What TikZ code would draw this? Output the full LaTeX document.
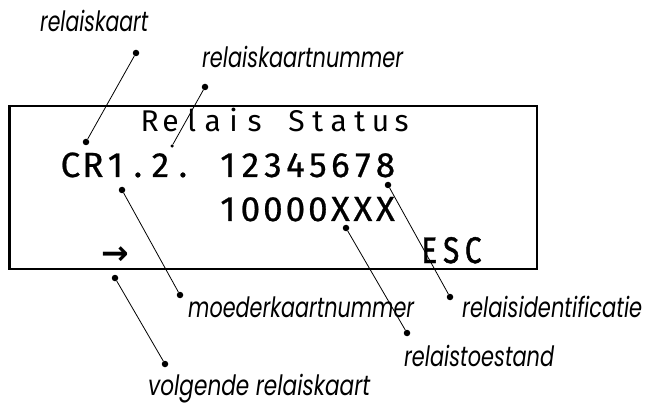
\documentclass[tikz,border=0pt]{standalone}
\usepackage{graphicx}
\usepackage{fontspec}
\setmainfont{Poppins}
\newfontfamily\lcdfont{Fira Sans}
\newfontfamily\lcdrow{Fira Sans}[FakeBold=0.7]
\newfontfamily\lcdesc{Fira Sans}[FakeBold=1.3, FakeStretch=0.8]
\newfontfamily\symfont{DejaVu Sans}
\newlength\lcdw
\def\lcdloop#1{\ifx#1\relax\else\makebox[\lcdw][c]{#1}\expandafter\lcdloop\fi}
\newcommand\lcdline[2]{\setlength\lcdw{#1}\lcdloop#2\relax}
\newcommand\fitlbl[2]{\resizebox{#1}{\height}{#2}}
\tikzset{
  lbl/.style={font=\itshape\fontsize{28}{28}\selectfont, inner sep=0pt, anchor=base west},
  lcd/.style={inner sep=0pt, anchor=base west},
  dot/.style={circle, fill=black, inner sep=0pt, minimum size=6.5pt},
  smalldot/.style={circle, fill=black, inner sep=0pt, minimum size=3.5pt},
  lead/.style={line width=0.8pt},
}
\begin{document}
\begin{tikzpicture}[x=1pt,y=-1pt]
\useasboundingbox (0,0) rectangle (645,406);
% display
\draw[line width=2.7pt] (9.5,106) rectangle (537,269);
\node[lcd, font=\lcdfont\fontsize{30}{30}\selectfont] (title) at (139,132) {\lcdline{21pt}{Relais~Status}};
\node[lcd, font=\lcdrow\fontsize{35}{35}\selectfont] (row1) at (59,177) {\lcdline{22.5pt}{CR1.2.~12345678}};
\node[lcd, font=\lcdrow\fontsize{35}{35}\selectfont] (row2) at (216.5,221) {\lcdline{22.5pt}{10000XXX}};
\node[lcd, font=\lcdesc\fontsize{37}{37}\selectfont] (esc) at (418,263) {\lcdline{22pt}{ESC}};
\node[lcd, font=\symfont\bfseries\fontsize{33}{33}\selectfont] (arrow) at (101,264) {→};
% labels
\node[lbl] (l1) at (40,32) {\fitlbl{108pt}{relaiskaart}};
\node[lbl] (l2) at (202,68) {\fitlbl{201pt}{relaiskaartnummer}};
\node[lbl] (l3) at (188,317) {\fitlbl{226pt}{moederkaartnummer}};
\node[lbl] (l4) at (462,317) {\fitlbl{180pt}{relaisidentificatie}};
\node[lbl] (l5) at (404,366) {\fitlbl{150pt}{relaistoestand}};
\node[lbl] (l6) at (148,395) {\fitlbl{222pt}{volgende relaiskaart}};
% dots
\node[dot] (d1a) at (136,53) {};
\node[dot] (d1b) at (86,142) {};
\node[dot] (d2a) at (205,87) {};
\node[smalldot] (d2b) at (172,146) {};
\node[dot] (d3a) at (122,190) {};
\node[dot] (d3b) at (180,295) {};
\node[dot] (d4a) at (388,185) {};
\node[dot] (d4b) at (450,297) {};
\node[dot] (d5a) at (346,228) {};
\node[dot] (d5b) at (407,333) {};
\node[dot] (d6a) at (115,278) {};
\node[dot] (d6b) at (165,364) {};
% leaders
\draw[lead] (d1a) -- (d1b);
\draw[lead] (d2a) -- (d2b);
\draw[lead] (d3a) -- (d3b);
\draw[lead] (d4a) -- (d4b);
\draw[lead] (d5a) -- (d5b);
\draw[lead] (d6a) -- (d6b);
\end{tikzpicture}
\end{document}
